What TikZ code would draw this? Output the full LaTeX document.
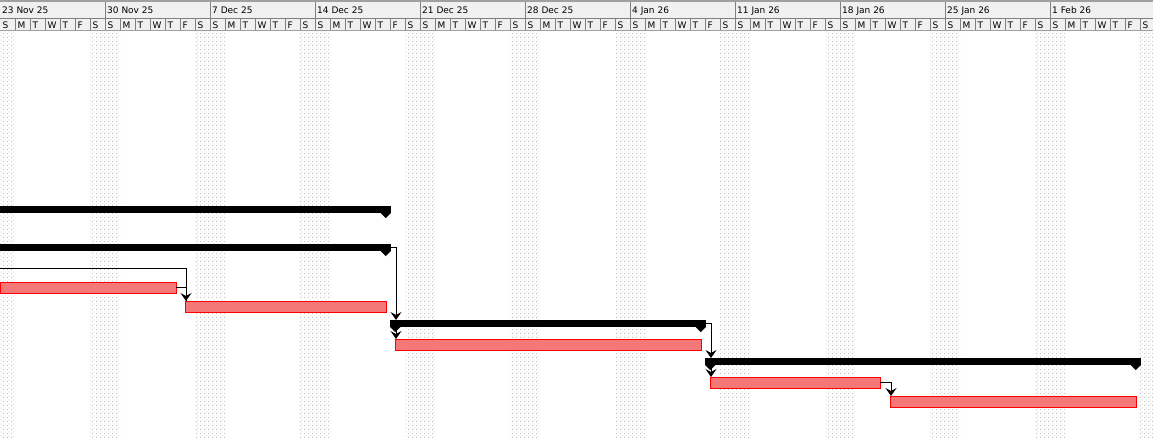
\documentclass[tikz,border=0pt]{standalone}
\usepackage{fontspec}
\setmainfont{DejaVu Sans}
\usetikzlibrary{arrows.meta,patterns}
\definecolor{hdrbg}{RGB}{240,240,240}
\definecolor{hdrline}{RGB}{128,128,128}
\definecolor{hdredge}{RGB}{160,160,160}
\definecolor{wkdot}{RGB}{190,190,190}
\definecolor{taskred}{RGB}{255,0,0}
\definecolor{taskfill}{RGB}{245,120,120}
\pgfdeclarepatternformonly{wkdots}{\pgfqpoint{0pt}{0pt}}{\pgfqpoint{4pt}{4pt}}{\pgfqpoint{4pt}{4pt}}{%
  \pgfpathrectangle{\pgfqpoint{0pt}{0pt}}{\pgfqpoint{1pt}{1pt}}%
  \pgfpathrectangle{\pgfqpoint{2pt}{2pt}}{\pgfqpoint{1pt}{1pt}}%
  \pgfusepath{fill}}
\tikzset{
  taskbar/.style={draw=taskred, line width=1pt, fill=taskfill,
    minimum height=11pt, inner sep=0pt, outer sep=0pt, anchor=north west},
  sumbar/.style={fill=black, minimum height=7pt, inner sep=0pt, outer sep=0pt, anchor=north west},
  link/.style={draw=black, line width=1pt, -{Stealth[length=8pt,width=11pt,inset=3pt]}},
  linkline/.style={draw=black, line width=1pt},
  wklab/.style={font=\fontsize{9}{10}\selectfont, anchor=base west, inner sep=0pt},
  daylab/.style={font=\fontsize{9}{10}\selectfont, anchor=base west, inner sep=0pt}
}
\newcommand\sumright[1]{\fill ([xshift=-10.5pt]#1.south east) -- (#1.south east) -- ([xshift=-5.25pt,yshift=-5pt]#1.south east) -- cycle;}
\newcommand\sumleft[1]{\fill (#1.south west) -- ([xshift=10.5pt]#1.south west) -- ([xshift=5.25pt,yshift=-5pt]#1.south west) -- cycle;}
\begin{document}
\begin{tikzpicture}[x=1pt,y=-1pt]
\useasboundingbox (0,0) rectangle (1153,437);
\fill[white] (0,0) rectangle (1153,437);
% weekend shading
\begin{scope}
\clip (0,31) rectangle (1153,437);
\foreach \k in {0,...,11} {
  \fill[pattern=wkdots, pattern color=wkdot] ({105*\k-15},31) rectangle ({105*\k+15},437);
}
\end{scope}
% header
\fill[hdrbg] (0,0) rectangle (1153,30);
\draw[hdredge, line width=1.5pt] (0,0.75) -- (1153,0.75);
\draw[hdrline, line width=1pt] (0,18) -- (1153,18);
\draw[hdredge, line width=1.5pt] (0,30.25) -- (1153,30.25);
\foreach \k in {1,...,10} {
  \draw[hdrline, line width=1pt] ({105*\k+0.5},1.5) -- ({105*\k+0.5},18);
}
\foreach \k in {1,...,76} {
  \draw[hdrline, line width=1pt] ({15*\k+0.5},18) -- ({15*\k+0.5},29.5);
}
\foreach \lab [count=\i from 0] in {23 Nov 25,30 Nov 25,7 Dec 25,14 Dec 25,21 Dec 25,28 Dec 25,4 Jan 26,11 Jan 26,18 Jan 26,25 Jan 26,1 Feb 26} {
  \node[wklab] (w\i) at ({105*\i+2},13.5) {\lab};
}
\foreach \w in {0,...,10} {
  \foreach \d [count=\j from 0] in {S,M,T,W,T,F,S} {
    \node[daylab] (d\w-\j) at ({105*\w+15*\j+2.5},28) {\d};
  }
}
% summary bars
\node[sumbar, minimum width=391pt] (S1) at (0,206) {};
\node[sumbar, minimum width=391pt] (S2) at (0,244) {};
\node[sumbar, minimum width=316pt] (S3) at (390,320) {};
\node[sumbar, minimum width=436pt] (S4) at (705,358) {};
\sumright{S1}
\sumright{S2}
\sumleft{S3}
\sumright{S3}
\sumleft{S4}
\sumright{S4}
% task bars
\node[taskbar, minimum width=176pt] (A) at (0,282) {};
\node[taskbar, minimum width=201pt] (B) at (185,301) {};
\node[taskbar, minimum width=306pt] (C) at (395,339) {};
\node[taskbar, minimum width=170pt] (D) at (710,377) {};
\node[taskbar, minimum width=246pt] (E) at (890,396) {};
% connectors
\coordinate (p0) at (0,268);
\draw[linkline] (p0) -| ([xshift=1pt]B.north west);
\draw[link] (A.east) -| ([xshift=1pt]B.north west);
\draw[link] (S2.east) -| ([xshift=6pt]S3.north west);
\draw[link] ([xshift=6pt]S3.south west) -- ([xshift=1pt]C.north west);
\draw[link] (S3.east) -| ([xshift=6pt]S4.north west);
\draw[link] ([xshift=6pt]S4.south west) -- ([xshift=1pt]D.north west);
\draw[link] (D.east) -| ([xshift=1pt]E.north west);
\end{tikzpicture}
\end{document}
